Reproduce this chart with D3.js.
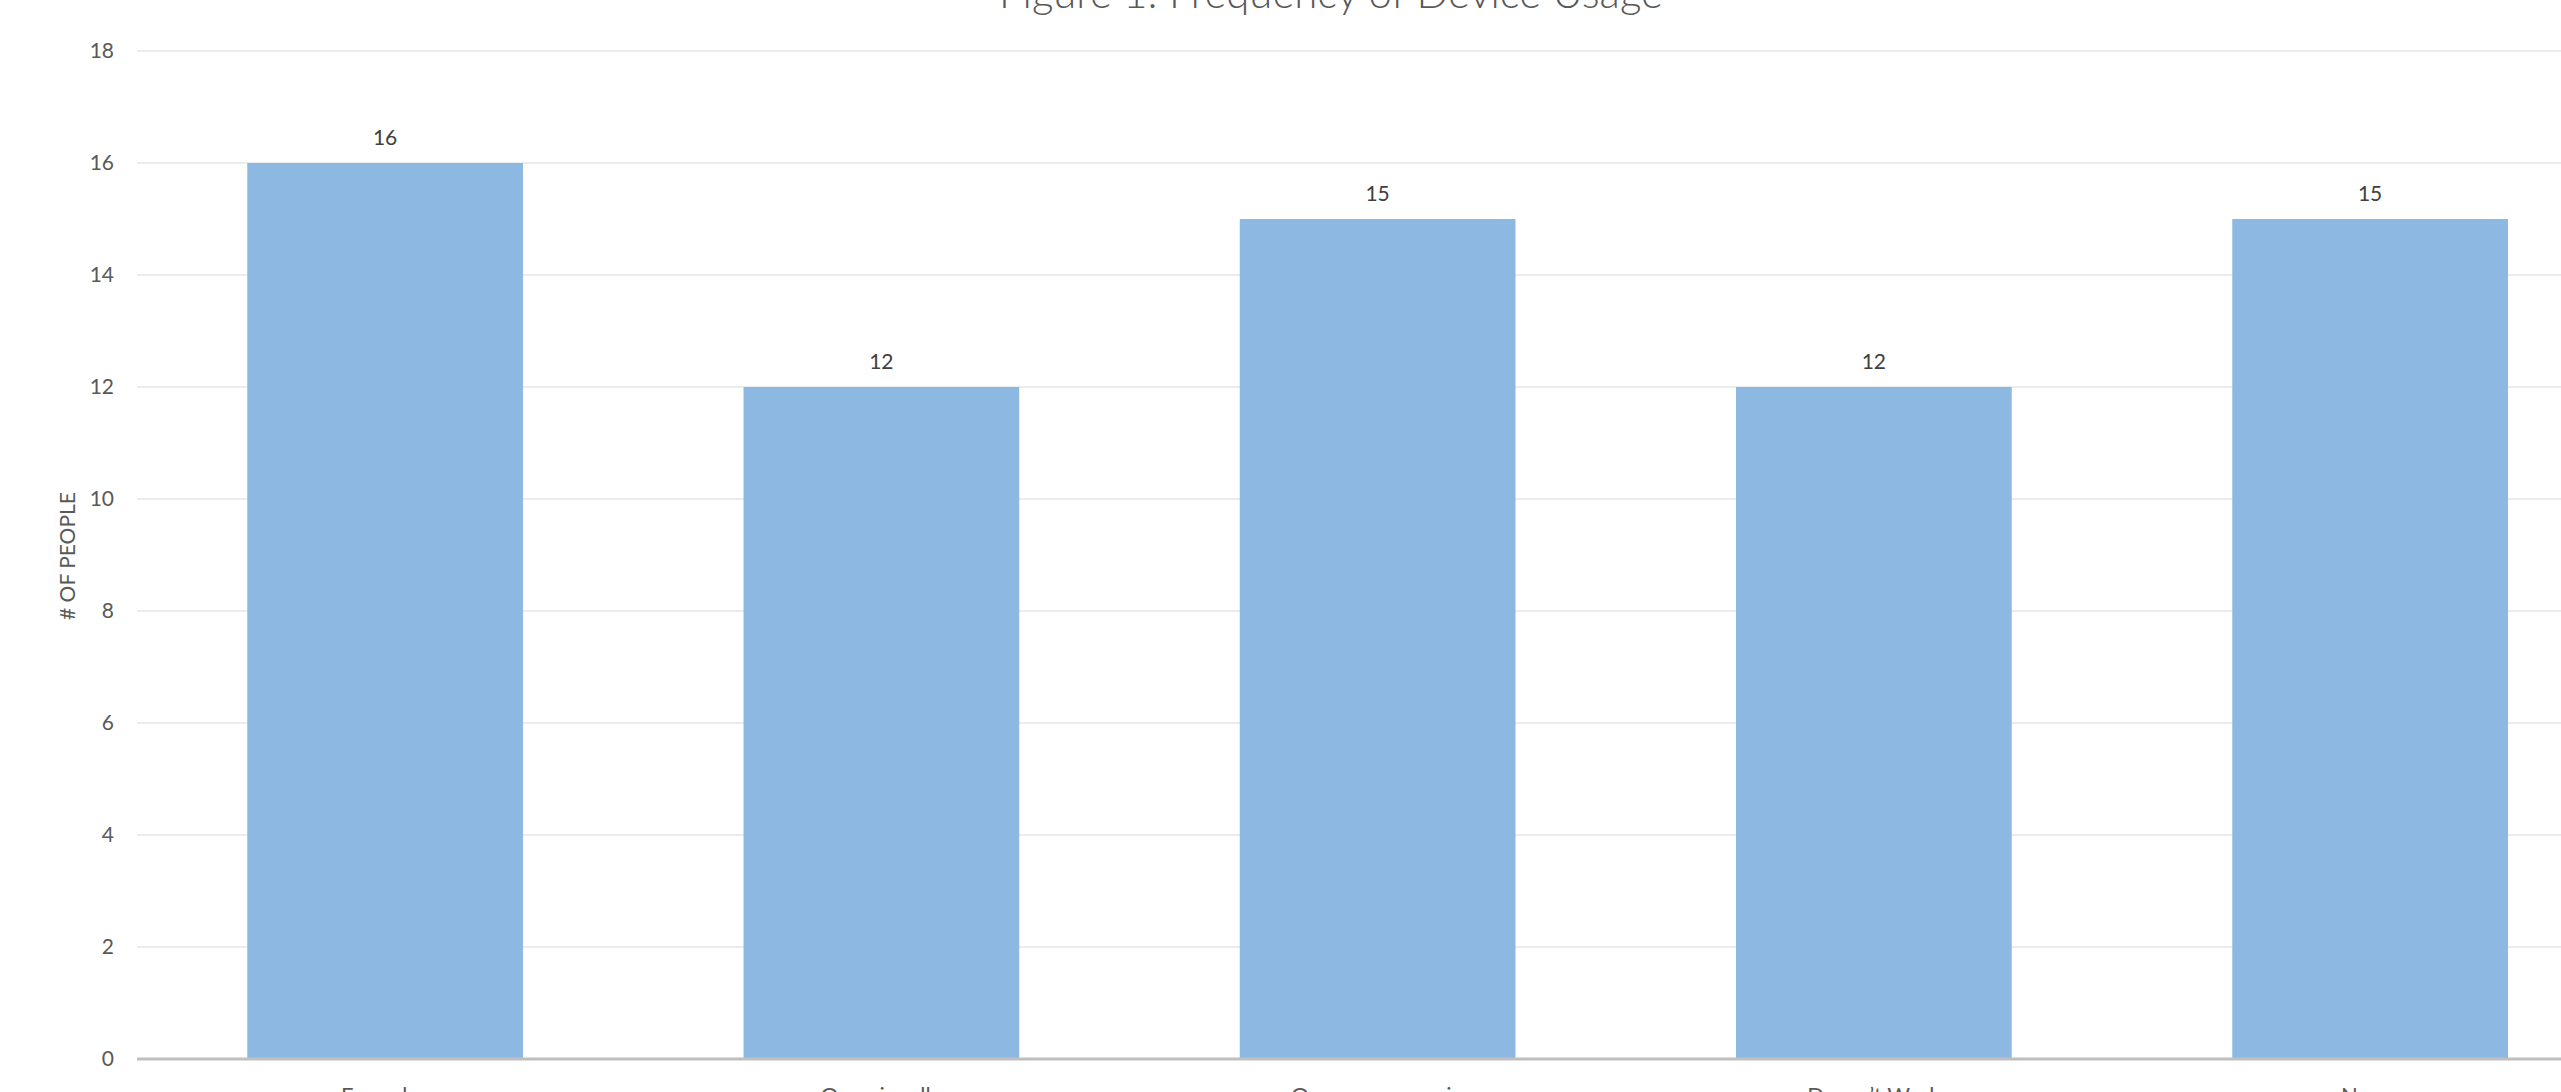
<!DOCTYPE html>
<html><head><meta charset="utf-8">
<script src="https://cdn.jsdelivr.net/npm/d3@7"></script>
<style>
html,body{margin:0;padding:0;background:#fff;overflow:hidden}
svg{display:block}
text{font-family:Lato,"Open Sans",sans-serif}
</style></head>
<body>
<svg id="chart" width="2561" height="1092"></svg>
<script>
const categories = ["Everyday","Occasionally","Once, never again","Doesn’t Work","Never"];
const values = [16,12,15,12,15];
const yTicks = [0,2,4,6,8,10,12,14,16,18];
const titleText = "Figure 1: Frequency of Device Usage";
const yTitle = "# OF PEOPLE";

const W = 2561, H = 1092;
const svg = d3.select("#chart");
const left = 137, step = 496.25;
const x = d3.scaleBand().domain(categories).range([left, left + step*categories.length]).paddingInner(0.8/1.8).paddingOuter(0.4/1.8);
const y = d3.scaleLinear().domain([0,18]).range([1059,51]);

// gridlines
svg.append("g").selectAll("line").data(yTicks.filter(d=>d>0)).join("line")
  .attr("x1", left).attr("x2", W).attr("y1", d=>y(d)).attr("y2", d=>y(d))
  .attr("stroke","#ececec").attr("stroke-width",2);

// y axis tick labels
const yAxis = d3.axisLeft(y).tickValues(yTicks).tickSize(0).tickPadding(0);
const ga = svg.append("g").attr("transform","translate(114,0)").call(yAxis);
ga.select(".domain").remove();
ga.selectAll("text").attr("font-size",21).attr("fill","#595959").attr("font-family","Lato,'Open Sans',sans-serif");

// bars
svg.append("g").selectAll("rect").data(values).join("rect")
  .attr("x",(d,i)=>x(categories[i])).attr("width",x.bandwidth())
  .attr("y",d=>y(d)).attr("height",d=>y(0)-y(d))
  .attr("fill","#8cb8e1");

// data labels
svg.append("g").selectAll("text").data(values).join("text")
  .attr("x",(d,i)=>x(categories[i])+x.bandwidth()/2).attr("y",d=>y(d)-18)
  .attr("text-anchor","middle").attr("font-size",21).attr("fill","#404040").text(d=>d);

// baseline
svg.append("line").attr("x1",left).attr("x2",W).attr("y1",y(0)).attr("y2",y(0))
  .attr("stroke","#bfbfbf").attr("stroke-width",3);

// x axis labels
const xAxis = d3.axisBottom(x).tickSize(0).tickPadding(0);
const gx = svg.append("g").attr("transform",`translate(0,${y(0)})`).call(xAxis);
gx.select(".domain").remove();
gx.selectAll("text").attr("font-size",22).attr("fill","#595959").attr("dy",null).attr("y",44)
  .attr("font-family","Lato,'Open Sans',sans-serif");

// y title
svg.append("text").attr("transform","translate(75,556) rotate(-90)")
  .attr("text-anchor","middle").attr("font-size",21).attr("fill","#595959").text(yTitle);

// title
const t = svg.append("text").attr("x",1331).attr("y",8).attr("text-anchor","middle")
  .attr("font-size",40).attr("font-weight",300).attr("fill","#595959").text(titleText);
const tw = t.node().getComputedTextLength();
t.attr("font-size", 40*664/tw);
</script>
</body></html>
